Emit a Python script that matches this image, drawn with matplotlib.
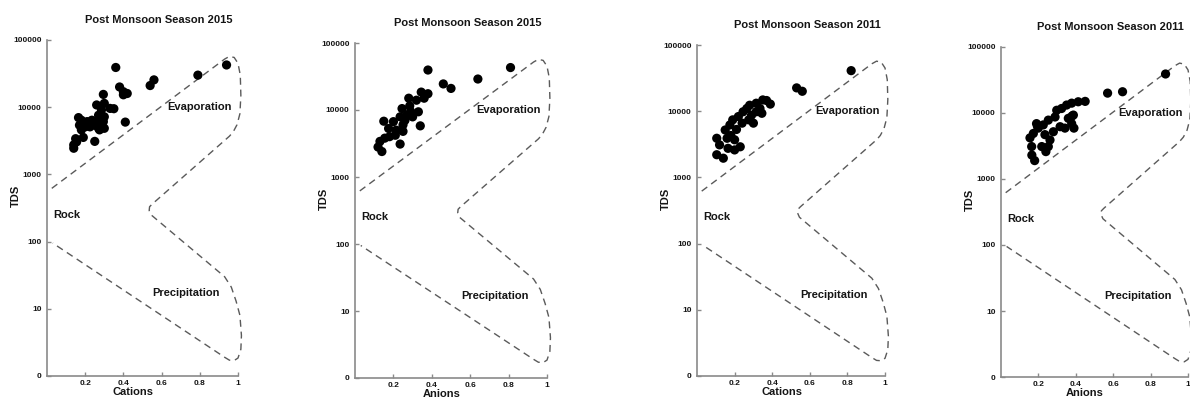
import matplotlib
matplotlib.use("Agg")
import matplotlib.pyplot as plt
from matplotlib.ticker import NullLocator

plt.rcParams['font.family'] = ['Liberation Sans', 'DejaVu Sans']

# ---- Post monsoon 2015: cations vs TDS ----
cations_2015 = [0.36, 0.38, 0.40, 0.42, 0.40, 0.54, 0.56, 0.79, 0.94, 0.295,
                0.26, 0.30, 0.285, 0.33, 0.35, 0.27, 0.30, 0.26, 0.295, 0.30,
                0.27, 0.165, 0.18, 0.21, 0.235, 0.17, 0.20, 0.225, 0.25, 0.275,
                0.18, 0.41, 0.25, 0.15, 0.14, 0.19, 0.155, 0.14]
tds_cat_2015 = [39000, 20000, 17000, 16000, 15300, 21000, 25500, 30000, 42500, 15500,
                10800, 11400, 9100, 9600, 9500, 7600, 7200, 6100, 6100, 4850,
                4850, 7000, 6400, 6100, 6400, 5400, 5100, 5100, 5400, 4600,
                4600, 6000, 3100, 3400, 2750, 3550, 3050, 2450]

# ---- Post monsoon 2015: anions vs TDS ----
anions_2015 = [0.38, 0.46, 0.50, 0.64, 0.81, 0.34, 0.235, 0.28, 0.345, 0.38,
               0.36, 0.32, 0.245, 0.285, 0.33, 0.27, 0.30, 0.235, 0.15, 0.20,
               0.175, 0.215, 0.25, 0.21, 0.25, 0.13, 0.12, 0.155, 0.14, 0.18,
               0.26, 0.29]
tds_an_2015 = [39500, 24500, 21000, 29000, 43000, 5800, 3100, 15000, 18500, 17500,
               15000, 14000, 10500, 11500, 9400, 8400, 7900, 7900, 6800, 6700,
               5300, 5000, 6000, 4200, 4800, 3400, 2800, 3800, 2400, 4000,
               7000, 9500]

# ---- Post monsoon 2011: cations vs TDS ----
cations_2011 = [0.82, 0.53, 0.56, 0.37, 0.39, 0.105, 0.14, 0.105, 0.12, 0.16,
                0.15, 0.175, 0.165, 0.20, 0.23, 0.19, 0.22, 0.245, 0.265, 0.24,
                0.275, 0.29, 0.315, 0.28, 0.315, 0.35, 0.335, 0.30, 0.345, 0.18,
                0.21, 0.20]
tds_cat_2011 = [41000, 22500, 20000, 14500, 12800, 2200, 1950, 3900, 3100, 3900,
                5200, 6200, 2750, 2600, 2900, 7400, 8300, 9800, 11000, 6600,
                7400, 8700, 9800, 12300, 13200, 14800, 11000, 6600, 9300, 4300,
                5300, 3700]

# ---- Post monsoon 2011: anions vs TDS ----
anions_2011 = [0.88, 0.57, 0.65, 0.45, 0.38, 0.39, 0.165, 0.18, 0.195, 0.164,
               0.155, 0.173, 0.199, 0.19, 0.226, 0.253, 0.289, 0.298, 0.324, 0.351,
               0.378, 0.413, 0.235, 0.262, 0.218, 0.28, 0.316, 0.342, 0.36, 0.378,
               0.387, 0.24, 0.253]
tds_an_2011 = [39000, 20000, 21000, 15000, 9000, 5900, 2300, 1900, 6300, 3100,
               4200, 4900, 5900, 6900, 6600, 7800, 8700, 11000, 11700, 13200,
               14100, 14800, 4700, 3900, 3100, 5200, 6200, 5900, 8300, 6900,
               9300, 2600, 3100]

# Gibbs diagram boundary (dominance fields outline)
boundary_x = [0.025, 0.93, 0.955, 0.98, 1.0, 1.012, 1.015, 1.01, 0.995, 0.975, 0.955,
              0.55, 0.537, 0.535, 0.545, 0.93, 0.965, 0.99, 1.01, 1.018, 1.015,
              1.0, 0.98, 0.955, 0.93, 0.03]
boundary_tds = [620, 52000, 57000, 55000, 45000, 30000, 15000, 8000, 5500, 4300, 3700,
                360, 330, 290, 250, 30, 21, 13, 8, 4, 2.5,
                1.85, 1.7, 1.72, 1.9, 95]

title_2015 = "Post Monsoon Season 2015"
title_2011 = "Post Monsoon Season 2011"
x_ticks = [0.2, 0.4, 0.6, 0.8, 1.0]
x_tick_labels = ["0.2", "0.4", "0.6", "0.8", "1"]
y_ticks = [1, 10, 100, 1000, 10000, 100000]
y_tick_labels = ["0", "10", "100", "1000", "10000", "100000"]

W, H = 1190, 409
fig = plt.figure(figsize=(W / 100, H / 100), dpi=100)

# (left, top, right, bottom) in pixels
boxes = [(47, 40, 238, 376), (355, 43, 547, 378), (697, 45, 885, 376), (1001, 47, 1188, 377)]
panels = [
    (cations_2015, tds_cat_2015, title_2015, "Cations"),
    (anions_2015, tds_an_2015, title_2015, "Anions"),
    (cations_2011, tds_cat_2011, title_2011, "Cations"),
    (anions_2011, tds_an_2011, title_2011, "Anions"),
]

spine_col = "#8a8a8a"
text_col = "#151515"

for (l, t, r, b), (xs, ys, title, xlabel) in zip(boxes, panels):
    wpx, hpx = r - l, b - t
    ax = fig.add_axes([l / W, 1 - b / H, wpx / W, hpx / H])
    ax.plot(boundary_x, boundary_tds, linestyle=(0, (5, 3.5)), color="#5a5a5a",
            lw=1.0, clip_on=False, zorder=2)
    ax.scatter(xs, ys, s=44, c="black", edgecolors="none", zorder=3)
    ax.set_yscale("log")
    ax.set_xlim(0, 1)
    ax.set_ylim(1, 1e5)
    ax.set_xticks(x_ticks)
    ax.set_xticklabels(x_tick_labels)
    ax.set_yticks(y_ticks)
    ax.set_yticklabels(y_tick_labels)
    ax.yaxis.set_minor_locator(NullLocator())
    ax.xaxis.set_minor_locator(NullLocator())
    for s in ("top", "right"):
        ax.spines[s].set_visible(False)
    for s in ("left", "bottom"):
        ax.spines[s].set_color(spine_col)
        ax.spines[s].set_linewidth(1.2)
    ax.tick_params(direction="in", length=3, width=1, colors=spine_col,
                   labelcolor=text_col, labelsize=6)
    ax.tick_params(axis="x", pad=3)
    ax.tick_params(axis="y", pad=4)
    for lab in ax.get_xticklabels() + ax.get_yticklabels():
        lab.set_fontweight("bold")

    ax.set_xlabel(xlabel, fontsize=8, fontweight="bold", color=text_col)
    ax.xaxis.set_label_coords(0.45, -11 / hpx)
    ax.set_ylabel("TDS", fontsize=8, fontweight="bold", color=text_col)
    ax.yaxis.set_label_coords(-26.5 / wpx, 0.536)

    ax.text(0.585, 1 + 20 / hpx, title, transform=ax.transAxes, ha="center",
            va="center", fontsize=8, fontweight="bold", color=text_col)

    ax.text(0.80, 10000, "Evaporation", ha="center", va="center", fontsize=8,
            fontweight="bold", color=text_col)
    ax.text(0.035, 250, "Rock", ha="left", va="center", fontsize=8,
            fontweight="bold", color=text_col)
    ax.text(0.73, 17, "Precipitation", ha="center", va="center", fontsize=8,
            fontweight="bold", color=text_col)

fig.savefig("out.png", dpi=100)
